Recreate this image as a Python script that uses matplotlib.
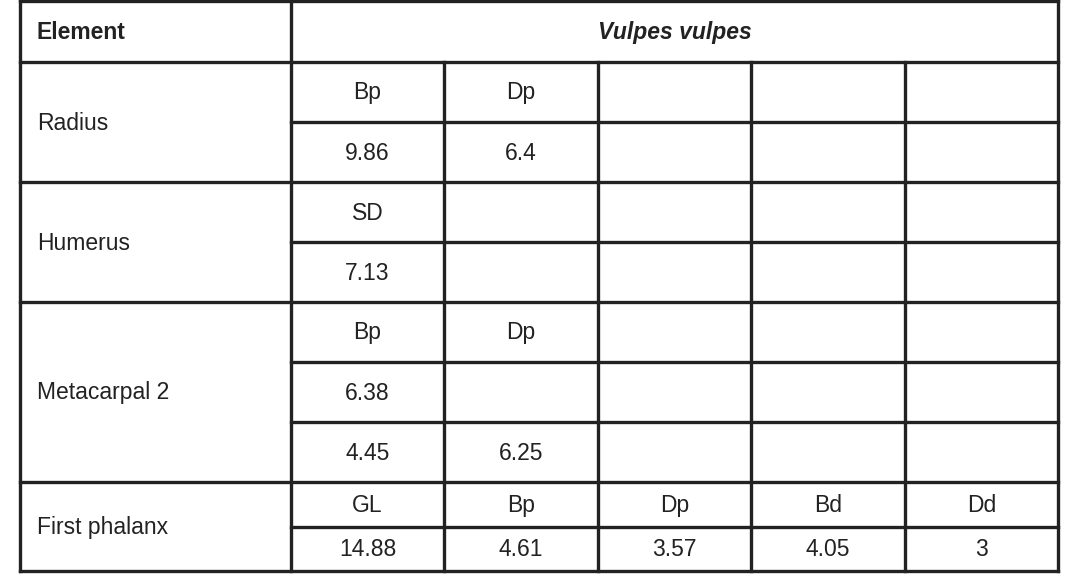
import matplotlib
import matplotlib.pyplot as plt

matplotlib.use("Agg")
plt.rcParams["font.family"] = ["Liberation Sans", "DejaVu Sans"]

# table content
header_left = "Element"
header_right = "Vulpes vulpes"
elements = ["Radius", "Humerus", "Metacarpal 2", "First phalanx"]
element_rows = [
    [["Bp", "Dp"], ["9.86", "6.4"]],
    [["SD"], ["7.13"]],
    [["Bp", "Dp"], ["6.38"], ["4.45", "6.25"]],
    [["GL", "Bp", "Dp", "Bd", "Dd"], ["14.88", "4.61", "3.57", "4.05", "3"]],
]

# layout (pixels)
col_x = [20, 291, 444, 598, 751, 905, 1058]
row_y = [1, 62, 122, 182, 242, 302, 362, 422, 482, 527, 571]
group_rows = [2, 2, 3, 2]
lw = 2.4
ink = "#222222"
fs = 16.5

fig = plt.figure(figsize=(10.65, 5.81), dpi=100)
ax = fig.add_axes([0, 0, 1, 1])
ax.set_xlim(0, 1065)
ax.set_ylim(581, 0)
ax.axis("off")

# outer and main lines
for x in (col_x[0], col_x[1], col_x[-1]):
    ax.plot([x, x], [row_y[0], row_y[-1]], color=ink, lw=lw)
for x in col_x[2:-1]:
    ax.plot([x, x], [row_y[1], row_y[-1]], color=ink, lw=lw)

ax.text(37, (row_y[0] + row_y[1]) / 2 + 1, header_left, fontsize=fs,
        fontweight="bold", va="center", ha="left", color=ink)
ax.text((col_x[1] + col_x[-1]) / 2, (row_y[0] + row_y[1]) / 2 + 1, header_right,
        fontsize=fs, fontweight="bold", style="italic", va="center",
        ha="center", color=ink)

r = 1
ax.plot([col_x[0], col_x[-1]], [row_y[0], row_y[0]], color=ink, lw=lw)
ax.plot([col_x[0], col_x[-1]], [row_y[1], row_y[1]], color=ink, lw=lw)
for name, rows, n in zip(elements, element_rows, group_rows):
    top, bot = row_y[r], row_y[r + n]
    ax.text(37, (top + bot) / 2 + 1, name, fontsize=fs, va="center",
            ha="left", color=ink)
    for i, vals in enumerate(rows):
        y0, y1 = row_y[r + i], row_y[r + i + 1]
        for j, v in enumerate(vals):
            xc = (col_x[1 + j] + col_x[2 + j]) / 2
            ax.text(xc, (y0 + y1) / 2 + 1, v, fontsize=fs, va="center",
                    ha="center", color=ink)
        if i > 0:
            ax.plot([col_x[1], col_x[-1]], [y0, y0], color=ink, lw=lw)
    ax.plot([col_x[0], col_x[-1]], [bot, bot], color=ink, lw=lw)
    r += n

fig.savefig("out.png", dpi=100, facecolor="white")
